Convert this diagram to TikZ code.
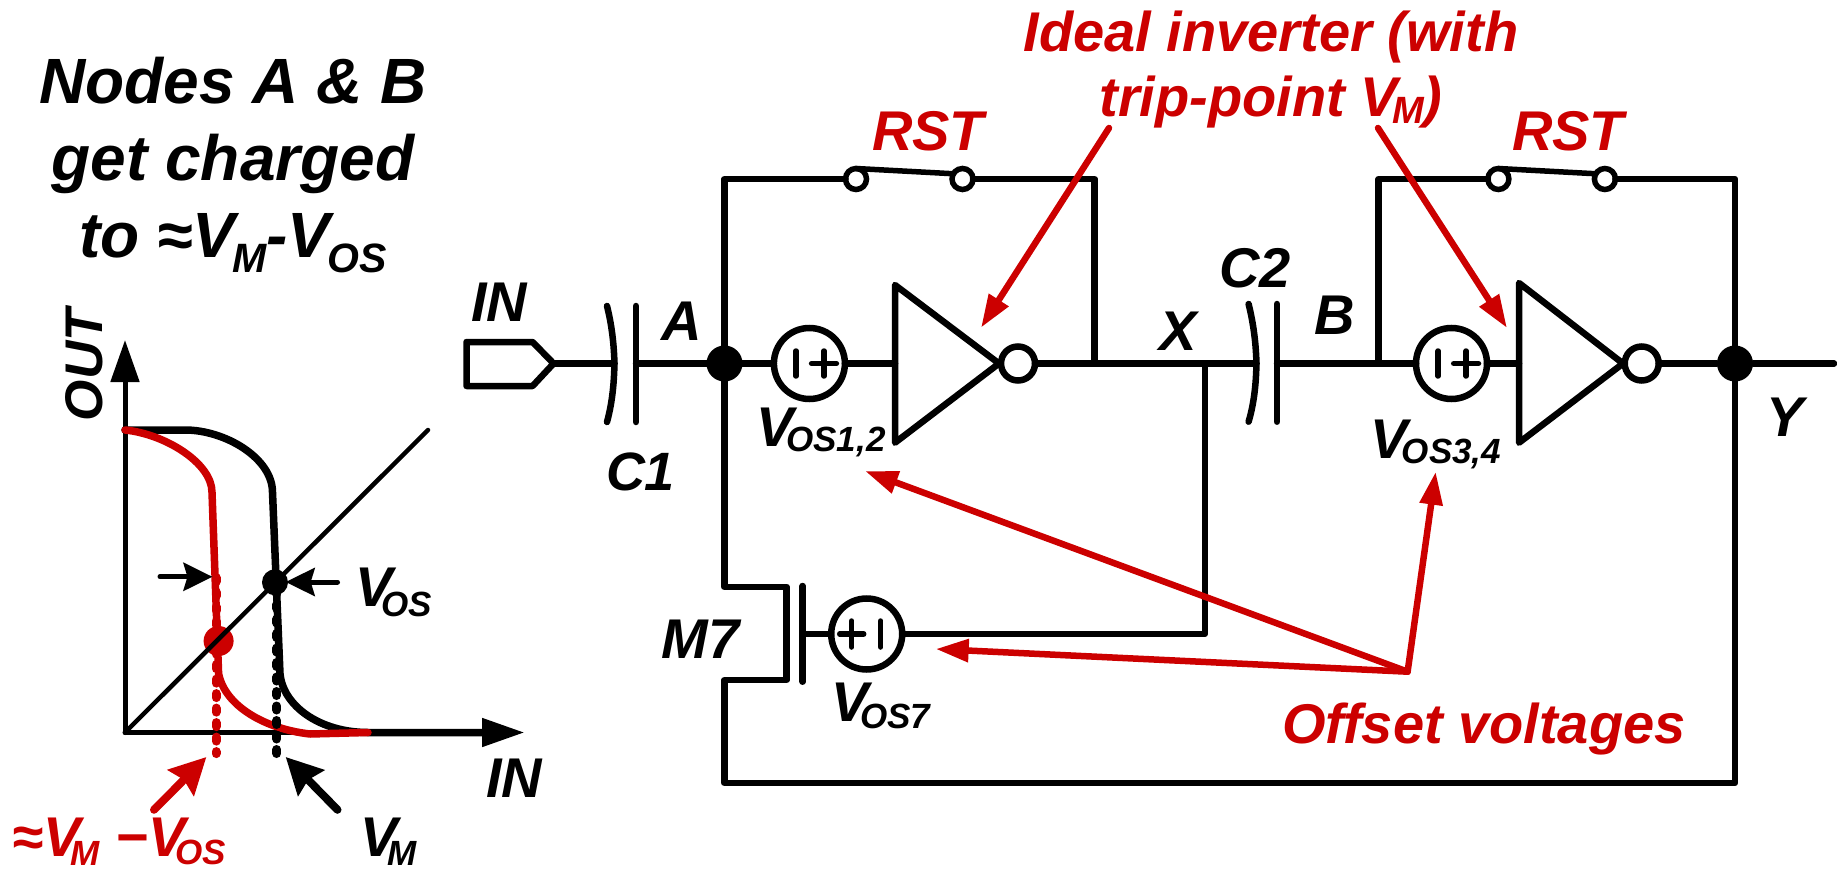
\documentclass[tikz,border=0pt]{standalone}
\usepackage{fontspec}
\setmainfont{Liberation Sans}
\usetikzlibrary{arrows.meta,calc}
\definecolor{rd}{HTML}{CC0000}
\newcommand\subs[3]{\kern#1pt\raisebox{-#2pt}{\fontsize{35}{35}\selectfont #3}}
\newcommand\subm[3]{\kern#1pt\raisebox{-#2pt}{\fontsize{41}{41}\selectfont #3}}
\newcommand\subt[3]{\kern#1pt\raisebox{-#2pt}{\fontsize{38}{38}\selectfont #3}}
\tikzset{
  wire/.style={line width=6.5pt,line join=round,line cap=round},
  thinw/.style={line width=5.5pt,line cap=round},
  txt/.style={anchor=base west,inner sep=0pt,outer sep=0pt,font=\fontsize{56}{65}\selectfont\bfseries\itshape},
  redtxt/.style={txt,text=rd},
  dotnode/.style={circle,fill=black,inner sep=0pt,minimum size=36pt},
  bubble/.style={circle,draw,line width=6.5pt,fill=white,inner sep=0pt,outer sep=0pt,minimum size=34pt},
  swnode/.style={circle,draw,line width=5.5pt,fill=white,inner sep=0pt,outer sep=0pt,minimum size=21pt},
  srcnode/.style={circle,draw,line width=6.5pt,fill=white,inner sep=0pt,outer sep=0pt,minimum size=71pt},
  polar/.style={line width=5.5pt,line cap=round},
  redarrow/.style={draw=rd,line width=6.5pt,line cap=round,-{Triangle[length=33pt,width=22pt]},rd},
  axis/.style={line width=5pt,line cap=round,-{Triangle[length=42pt,width=28pt]}},
  smallarrow/.style={line width=5pt,line cap=round,-{Stealth[length=29pt,width=28pt,inset=4pt]}},
  bigarrow/.style={line width=8pt,line cap=round,-{Stealth[length=36pt,width=36pt,inset=4pt]}},
  dots/.style={line width=9pt,line cap=round,dash pattern=on 4pt off 10.5pt},
  curve/.style={line width=7.5pt,line cap=round,line join=round}
}
\begin{document}
\begin{tikzpicture}[x=1pt,y=-1pt]
\useasboundingbox (0,0) rectangle (1837,869);

% --- transfer curve panel ---
\coordinate (org) at (125,732.5);
\coordinate (ytip) at (125,340);
\coordinate (xtip) at (524,732.5);
\coordinate (xthick) at (368,732.5);
\coordinate (diag) at (428,430);
\coordinate (top) at (125,430);
\draw[axis] (org) -- (ytip);
\draw[axis] (org) -- (xtip);
\draw[curve] (top) -- (185,430) .. controls (225,430) and (272.5,458) .. (272.5,492.3)
  -- (280,673.7) .. controls (283,706) and (320,732.5) .. (xthick) -- (490,732.5);
\draw[curve,rd] (top) .. controls (165,434) and (212,463) .. (212,492.3)
  -- (218.6,673.7) .. controls (225,706) and (265,729) .. (310,734) -- (xthick);
\node[circle,fill=rd,inner sep=0pt,minimum size=30pt] (rdot) at (218.6,641) {};
\coordinate (rd1) at (216,577.6); \coordinate (rd2) at (216,753.6);
\draw[dots,rd] (rd1) -- (rd2);
\draw[line width=4.5pt,line cap=round] (org) -- (diag);
\node[circle,fill=black,inner sep=0pt,minimum size=26pt] (bdot) at (275,582.3) {};
\coordinate (bd1) at (276.8,590); \coordinate (bd2) at (276.8,753.6);
\draw[dots] (bd1) -- (bd2);

\coordinate (lsA) at (160,576.8); \coordinate (lsB) at (212.5,576.8);
\coordinate (rsA) at (337.5,582); \coordinate (rsB) at (285.7,582);
\draw[smallarrow] (lsA) -- (lsB);
\draw[smallarrow] (rsA) -- (rsB);
\coordinate (raA) at (154,809.8); \coordinate (raB) at (206.4,757);
\coordinate (baA) at (337.5,809.8); \coordinate (baB) at (285.7,757);
\draw[bigarrow,rd] (raA) -- (raB);
\draw[bigarrow] (baA) -- (baB);

\node[anchor=north,inner sep=0pt,align=center,font=\fontsize{64}{77}\selectfont\bfseries\itshape] (title) at (233,57)
  {Nodes A \& B\\get charged\\to ≈V\subm{-3}{15}{M}-V\subm{-3}{15}{OS}};
\node[txt,rotate=90,font=\fontsize{53}{60}\selectfont\bfseries\itshape] (out) at (102,421) {OUT};
\node[txt] (inx) at (486,797.8) {IN};
\node[txt] (vosl) at (355,606.6) {V\subs{-11}{10}{OS}};
\node[txt] (vml) at (360,856.5) {V\subs{-10}{9}{M}};
\node[redtxt] (vmos) at (12.5,856.5) {≈V\subs{-10}{9}{M} −V\subs{-10}{8}{OS}};

% --- circuit ---
\coordinate (tip) at (553.6,363.5);
\draw[wire] (466.5,342) -- (532.6,342) -- (tip) -- (532.6,386) -- (466.5,386) -- cycle;
\coordinate (c1a) at (614.5,363.5);
\coordinate (c1b) at (636,363.5);
\draw[wire] (tip) -- (c1a);
\draw[wire] (607,306) .. controls (613,330) and (614,350) .. (c1a) .. controls (614,380) and (613,400) .. (607,422);
\draw[wire] (636,306) -- (636,422);
\node[dotnode] (A) at (724.5,363.5) {};
\draw[wire] (c1b) -- (A);
\node[srcnode] (v1) at (809.4,363.5) {};
\draw[wire] (A) -- (v1);
\draw[polar] ($(v1)+(-13.4,-12.5)$) -- ($(v1)+(-13.4,12.5)$);
\draw[polar] ($(v1)+(14.6,-12.5)$) -- ($(v1)+(14.6,12.5)$);
\draw[polar] ($(v1)+(2.2,0)$) -- ($(v1)+(27,0)$);
\coordinate (i1) at (895,363.5);
\draw[wire] (v1) -- (i1);
\draw[wire] (895,285) -- (999,363.5) -- (895,442.7) -- cycle;
\node[bubble] (b1) at (1018,363.5) {};
\node[swnode] (s1) at (856,179) {};
\node[swnode] (s2) at (962.5,179) {};
\coordinate (fb1) at (1094.6,363.5);
\coordinate (X) at (1204.8,363.5);
\draw[wire] (A) |- (s1);
\draw[wire] (s2) -| (fb1);
\draw[thinw] (s1.north) -- (s2.150);
\coordinate (c2a) at (1256.5,363.5);
\coordinate (c2b) at (1277,363.5);
\draw[wire] (b1) -- (c2a);
\draw[wire] (1248.6,304) .. controls (1255,330) and (1256,350) .. (c2a) .. controls (1256,380) and (1255,400) .. (1248.6,421.7);
\draw[wire] (1277,304) -- (1277,421.7);
\node[srcnode] (v3) at (1451.5,363.5) {};
\draw[wire] (c2b) -- (v3);
\draw[polar] ($(v3)+(-13.4,-12.5)$) -- ($(v3)+(-13.4,12.5)$);
\draw[polar] ($(v3)+(14.6,-12.5)$) -- ($(v3)+(14.6,12.5)$);
\draw[polar] ($(v3)+(2.2,0)$) -- ($(v3)+(27,0)$);
\coordinate (i3) at (1519,363.5);
\draw[wire] (v3) -- (i3);
\draw[wire] (1519,283) -- (1623,363.5) -- (1519,442.7) -- cycle;
\node[bubble] (b3) at (1641.7,363.5) {};
\node[dotnode] (Y) at (1735,363.5) {};
\coordinate (outY) at (1834,363.5);
\draw[wire] (b3) -- (Y) -- (outY);
\node[swnode] (s3) at (1498.4,179) {};
\node[swnode] (s4) at (1604.9,179) {};
\coordinate (fb3) at (1378.7,363.5);
\draw[wire] (fb3) |- (s3);
\draw[wire] (s4) -| (Y);
\draw[thinw] (s3.north) -- (s4.150);
% M7
\node[srcnode] (v7) at (866.7,634) {};
\draw[polar] ($(v7)+(-27,0)$) -- ($(v7)+(-3,0)$);
\draw[polar] ($(v7)+(-15,-13)$) -- ($(v7)+(-15,13)$);
\draw[polar] ($(v7)+(14,-13)$) -- ($(v7)+(14,13)$);
\coordinate (gate) at (802.7,634);
\draw[wire] (802.7,586) -- (802.7,681.7);
\draw[wire] (gate) -- (v7);
\draw[wire] (v7) -| (X);
\coordinate (d) at (724.5,587); \coordinate (so) at (724.5,680);
\draw[wire] (A) -- (d) -- (786.7,587) -- (786.7,680) -- (so) -- (724.5,783) -| (Y);

% --- red arrows ---
\coordinate (ofs) at (1407.6,671.7);
\draw[redarrow] (1109,128) -- (981,327.7);
\draw[redarrow] (1378,128) -- (1507,328);
\coordinate (tg12) at (865,471);
\coordinate (tg34) at (1435.7,471.7);
\coordinate (tg7) at (935.7,649);
\draw[redarrow] (ofs) -- (tg12);
\draw[redarrow] (ofs) -- (tg34);
\draw[redarrow] (ofs) -- (tg7);

% --- labels ---
\node[redtxt,anchor=north,align=center] (ideal) at (1271,11) {Ideal inverter (with\\trip-point V\subt{-6}{7}{M})};
\node[redtxt] (rst1) at (872,150.7) {RST};
\node[redtxt] (rst2) at (1512,150.7) {RST};
\node[redtxt] (ofst) at (1282,743.3) {Offset voltages};
\node[txt] (lin) at (471.4,321.7) {IN};
\node[txt] (la) at (661,340) {A};
\node[txt,font=\fontsize{54}{60}\selectfont\bfseries\itshape] (lc1) at (606,490) {C1};
\node[txt] (lx) at (1159,350) {X};
\node[txt] (lc2) at (1219,287.3) {C2};
\node[txt] (lb) at (1314,334.3) {B};
\node[txt] (ly) at (1766,436) {Y};
\node[txt] (lm7) at (661.7,658.3) {M7};
\node[txt] (l12) at (756,446.7) {V\subs{-7}{5}{OS1,2}};
\node[txt] (l34) at (1370.5,458) {V\subs{-6}{5}{OS3,4}};
\node[txt] (l7) at (831,721) {V\subs{-8}{7}{OS7}};
\end{tikzpicture}
\end{document}
